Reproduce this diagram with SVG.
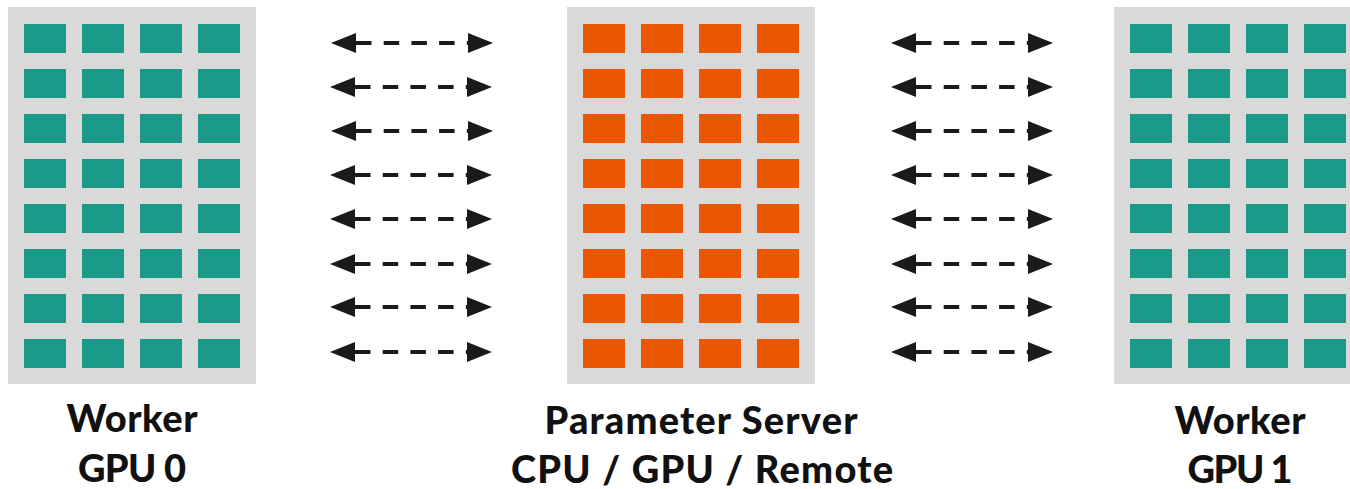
<svg xmlns="http://www.w3.org/2000/svg" width="1350" height="489" viewBox="0 0 1350 489">
  <style>
    .panel { fill: #d9d9d9; }
    .label { font-family: "Lato", "Liberation Sans", sans-serif; font-weight: 900; font-size: 38px; fill: #111111; text-anchor: middle; }
    .link { stroke: #1a1a1a; stroke-width: 4; stroke-dasharray: 15.5 12.2; fill: none; marker-start: url(#head); marker-end: url(#head); }
  </style>
  <defs>
    <marker id="head" markerUnits="userSpaceOnUse" markerWidth="25" markerHeight="20" refX="0" refY="10" orient="auto-start-reverse" viewBox="0 0 25 20">
      <path d="M0,0 L25,10 L0,20 z" fill="#1a1a1a"/>
    </marker>
    <!-- one row of four cells; fill comes from the referencing <use> -->
    <g id="row">
      <rect x="0" y="0" width="42" height="29"/>
      <rect x="58" y="0" width="42" height="29"/>
      <rect x="116" y="0" width="42" height="29"/>
      <rect x="174" y="0" width="42" height="29"/>
    </g>
    <!-- eight rows of cells -->
    <g id="grid">
      <use href="#row" y="0"/>
      <use href="#row" y="45"/>
      <use href="#row" y="90"/>
      <use href="#row" y="135"/>
      <use href="#row" y="180"/>
      <use href="#row" y="225"/>
      <use href="#row" y="270"/>
      <use href="#row" y="315"/>
    </g>
  </defs>

  <rect width="1350" height="489" fill="#ffffff"/>

  <g id="worker0">
    <rect class="panel" x="8" y="7" width="248" height="377"/>
    <use href="#grid" x="24" y="24" fill="#1a9988"/>
    <text class="label" x="132" y="432" textLength="131">Worker</text>
    <text class="label" x="132" y="482" textLength="108">GPU 0</text>
  </g>

  <g id="param-server">
    <rect class="panel" x="567" y="7" width="248" height="377"/>
    <use href="#grid" x="583" y="24" fill="#eb5600"/>
    <text class="label" x="701" y="434" textLength="313">Parameter Server</text>
    <text class="label" x="702" y="483" textLength="382">CPU / GPU / Remote</text>
  </g>

  <g id="worker1">
    <rect class="panel" x="1114" y="7" width="248" height="377"/>
    <use href="#grid" x="1130" y="24" fill="#1a9988"/>
    <text class="label" x="1240" y="434" textLength="131">Worker</text>
    <text class="label" x="1240" y="483" textLength="105">GPU 1</text>
  </g>

  <g id="connectors">
    <line class="link" x1="356" y1="43" x2="468" y2="43"/>
    <line class="link" x1="355" y1="87" x2="467" y2="87"/>
    <line class="link" x1="356" y1="131" x2="468" y2="131"/>
    <line class="link" x1="355" y1="175" x2="467" y2="175"/>
    <line class="link" x1="355" y1="219" x2="467" y2="219"/>
    <line class="link" x1="355" y1="264" x2="467" y2="264"/>
    <line class="link" x1="355" y1="307" x2="467" y2="307"/>
    <line class="link" x1="355" y1="352" x2="467" y2="352"/>

    <line class="link" x1="916" y1="43" x2="1028" y2="43"/>
    <line class="link" x1="916" y1="87" x2="1028" y2="87"/>
    <line class="link" x1="916" y1="131" x2="1028" y2="131"/>
    <line class="link" x1="916" y1="175" x2="1028" y2="175"/>
    <line class="link" x1="916" y1="219" x2="1028" y2="219"/>
    <line class="link" x1="916" y1="264" x2="1028" y2="264"/>
    <line class="link" x1="916" y1="307" x2="1028" y2="307"/>
    <line class="link" x1="916" y1="352" x2="1028" y2="352"/>
  </g>
</svg>
